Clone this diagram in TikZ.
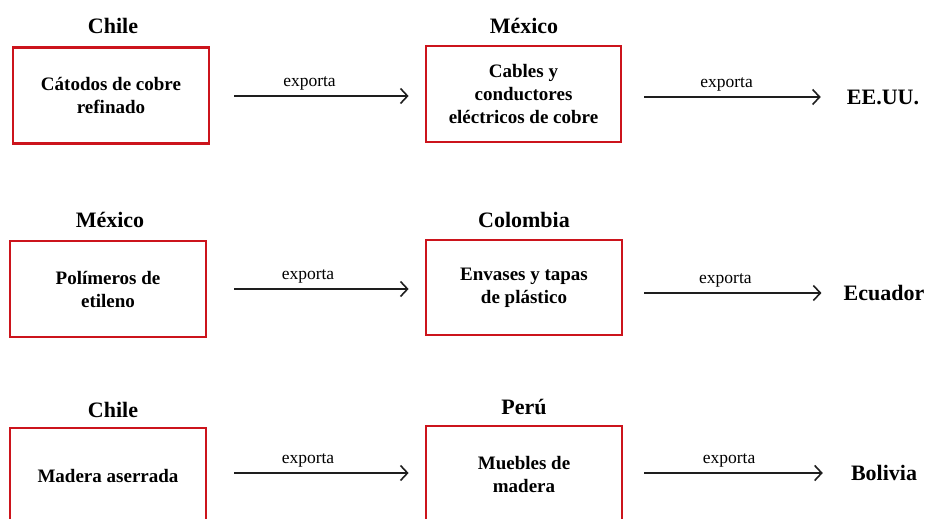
\documentclass[tikz,border=0pt]{standalone}
\usepackage{fontspec}
\setmainfont{Liberation Serif}
\usetikzlibrary{arrows.meta}
\definecolor{boxred}{RGB}{204,20,28}
\definecolor{arrowgray}{RGB}{30,30,30}
\tikzset{
  prodbox/.style={draw=boxred, line width=2.8pt, minimum width=196pt, minimum height=96pt,
    align=center, font=\bfseries\fontsize{19}{23}\selectfont, inner sep=0pt},
  country/.style={font=\bfseries\fontsize{22}{26}\selectfont, inner sep=0pt},
  dest/.style={font=\bfseries\fontsize{22}{26}\selectfont, inner sep=0pt},
  flow/.style={draw=arrowgray, line width=1.6pt, -{Straight Barb[length=7pt,width=15pt,line width=1.6pt]}},
  lbl/.style={font=\fontsize{17.5}{20}\selectfont, inner sep=0pt, above=5pt, midway, xshift=-8pt}
}
\begin{document}
\begin{tikzpicture}[x=1pt,y=-1pt]
\useasboundingbox (0,0) rectangle (929,519);
\clip (0,0) rectangle (929,519);
% Row 1
\node[country] (t1) at (113,26) {Chile};
\node[prodbox] (b1) at (111,95.5) {Cátodos de cobre\\refinado};
\node[country] (t2) at (524,26) {México};
\node[prodbox, minimum width=195pt] (b2) at (523.5,94) {Cables y\\conductores\\eléctricos de cobre};
\node[dest] (d1) at (883,97) {EE.UU.};
\draw[flow, shorten <=24pt, shorten >=16pt] (b1.east |- 0,96) -- (b2.west |- 0,96) node[lbl] {exporta};
\draw[flow, shorten <=22pt, shorten >=26pt] (b2.east |- d1) -- (d1.west) node[lbl] {exporta};
% Row 2
\node[country] (t3) at (110,220) {México};
\node[prodbox] (b3) at (108,289) {Polímeros de\\etileno};
\node[country] (t4) at (524,220) {Colombia};
\node[prodbox, minimum height=95pt] (b4) at (524,287.5) {Envases y tapas\\de plástico};
\node[dest] (d2) at (884,293) {Ecuador};
\draw[flow, shorten <=27pt, shorten >=16pt] (b3.east |- 0,289) -- (b4.west |- 0,289) node[lbl] {exporta};
\draw[flow, shorten <=21pt, shorten >=22pt] (b4.east |- d2) -- (d2.west) node[lbl] {exporta};
% Row 3
\node[country] (t5) at (113,410) {Chile};
\node[prodbox] (b5) at (108,476) {Madera aserrada};
\node[country] (t6) at (524,407) {Perú};
\node[prodbox] (b6) at (524,474) {Muebles de\\madera};
\node[dest] (d3) at (884,473) {Bolivia};
\draw[flow, shorten <=27pt, shorten >=16pt] (b5.east |- 0,473) -- (b6.west |- 0,473) node[lbl] {exporta};
\draw[flow, shorten <=21pt, shorten >=28pt] (b6.east |- d3) -- (d3.west) node[lbl] {exporta};
\end{tikzpicture}
\end{document}
